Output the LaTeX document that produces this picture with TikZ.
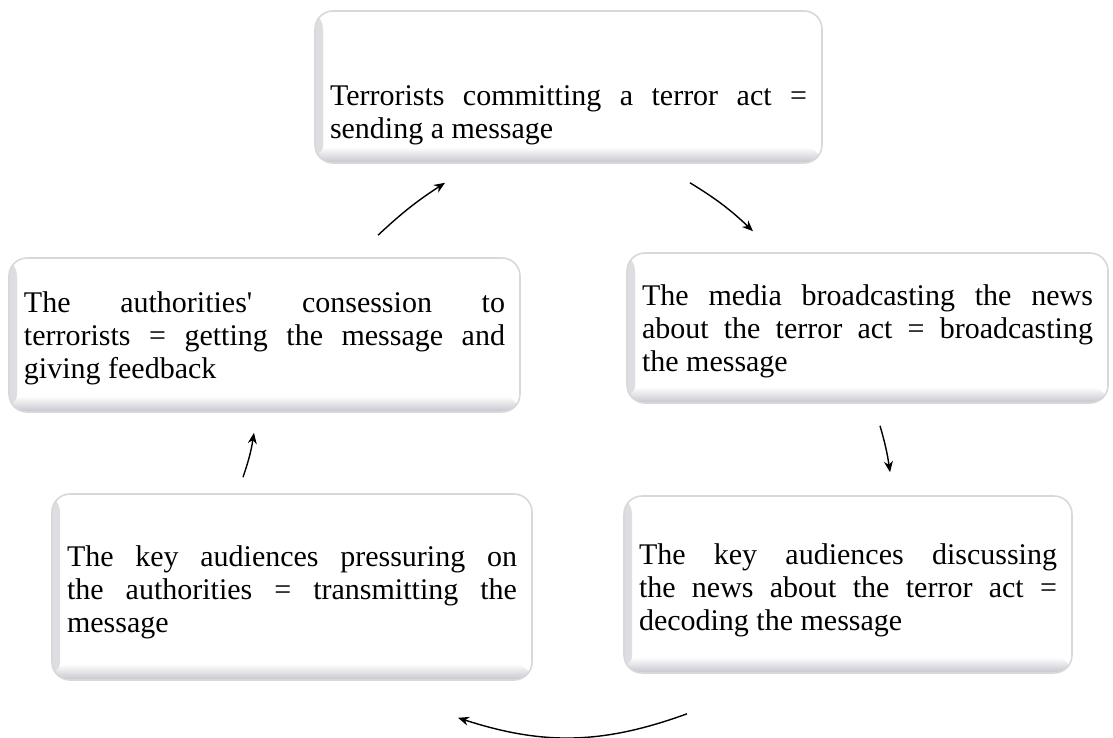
\documentclass[tikz,border=0pt]{standalone}
\usepackage{fontspec}
\setmainfont{Liberation Serif}
\usepackage{tikz}
\usetikzlibrary{arrows.meta,positioning,calc}

\definecolor{rimgray}{RGB}{216,216,218}
\definecolor{sidegray}{RGB}{222,222,226}
\definecolor{shadegray}{RGB}{196,196,206}

\begin{document}
\begin{tikzpicture}[
    x=0.5pt, y=-0.5pt,
    every node/.style={font=\fontsize{15}{16.5}\selectfont},
    stage/.style={draw=rimgray, line width=0.8pt, fill=white,
      rounded corners=9pt, align=justify, inner xsep=7.5pt, inner ysep=0pt,
      path picture={
        \shade[left color=sidegray, right color=white]
          (path picture bounding box.south west) rectangle
          ([xshift=4pt]path picture bounding box.north west);
        \shade[bottom color=shadegray, top color=white]
          (path picture bounding box.south west) rectangle
          ([yshift=8pt]path picture bounding box.south east);
      }},
    flow/.style={-{Stealth[length=5.5pt,width=4.5pt]}, line width=0.7pt},
  ]
  \useasboundingbox (0,0) rectangle (1113,738);

  % the five stages of the cycle
  \node[stage, text width=238.5pt, minimum height=76pt, text height=38pt] (act) at (568.5,87)
    {Terrorists committing a terror act =\linebreak sending a message};
  \node[stage, text width=240.5pt, minimum height=77pt, text height=14pt] (feedback) at (264.5,335)
    {The authorities\textquotesingle{} consession to\linebreak terrorists = getting the message and\linebreak giving feedback};
  \node[stage, text width=225.5pt, minimum height=75pt, text height=14pt] (broadcast) at (867.5,328)
    {The media broadcasting the news\linebreak about the terror act = broadcasting\linebreak the message};
  \node[stage, text width=225pt, minimum height=93pt, text height=16pt] (pressure) at (292,587)
    {The key audiences pressuring on\linebreak the authorities = transmitting the\linebreak message};
  \node[stage, text width=209pt, minimum height=88.5pt, text height=16pt] (decode) at (848,584.5)
    {The key audiences discussing\linebreak the news about the terror act =\linebreak decoding the message};

  % arrows (clockwise)
  \draw[flow] ([shift={(113.5,-22)}]feedback.north) to[bend left=5] ([shift={(-123.5,19)}]act.south);
  \draw[flow] ([shift={(121.5,19)}]act.south) to[bend left=6] ([shift={(-114.5,-21)}]broadcast.north);
  \draw[flow] ([shift={(12.5,22)}]broadcast.south) to[bend left=4] ([shift={(42,-23)}]decode.north);
  \draw[flow] ([shift={(-161,40)}]decode.south) to[bend left=19] ([shift={(166,37)}]pressure.south);
  \draw[flow] ([shift={(-49,-16)}]pressure.north) to[bend right=5] ([shift={(-10.5,20)}]feedback.south);
\end{tikzpicture}
\end{document}
